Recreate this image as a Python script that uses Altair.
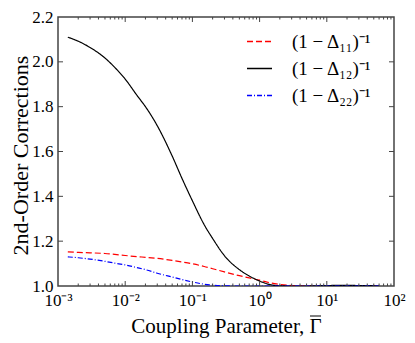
import altair as alt
import pandas as pd

# ---- data ----
gamma = [0.0014, 0.002, 0.003, 0.005, 0.007, 0.01, 0.015, 0.02, 0.03, 0.05, 0.07,
         0.1, 0.15, 0.2, 0.3, 0.5, 0.7, 1.0, 1.5, 2.0, 3.0, 5.0, 7.0, 10.0, 20.0, 30.0, 60.0]
d11 = [1.152, 1.150, 1.148, 1.145, 1.141, 1.136, 1.131, 1.128, 1.123, 1.114, 1.107,
       1.099, 1.087, 1.077, 1.063, 1.046, 1.036, 1.026, 1.013, 1.007, 1.002, 1.000, 1.000,
       1.000, 1.000, 1.000, 1.000]
d12 = [2.110, 2.092, 2.064, 2.017, 1.975, 1.923, 1.850, 1.800, 1.715, 1.580, 1.480,
       1.380, 1.273, 1.212, 1.135, 1.073, 1.045, 1.022, 1.005, 1.001, 1.000, 1.000, 1.001,
       1.002, 1.003, 1.002, 1.001]
d22 = [1.130, 1.126, 1.120, 1.110, 1.102, 1.094, 1.082, 1.073, 1.057, 1.040, 1.029,
       1.018, 1.008, 1.004, 1.001, 1.000, 1.000, 1.000, 1.000, 1.000, 1.000, 1.000, 1.000,
       1.000, 1.000, 1.000, 1.000]

series_labels = ["(1 − Δ₁₁)⁻¹", "(1 − Δ₁₂)⁻¹", "(1 − Δ₂₂)⁻¹"]
series_colors = ["#ff0000", "#000000", "#0000ff"]
series_dashes = [[6, 3], [1, 0], [5, 2, 1, 2]]

x_major = [0.001, 0.01, 0.1, 1, 10, 100]
x_major_labels = ["10⁻³", "10⁻²", "10⁻¹", "10⁰", "10¹", "10²"]
x_minor = [m * 10.0 ** k for k in range(-3, 2) for m in range(2, 10)]
y_major = [1.0, 1.2, 1.4, 1.6, 1.8, 2.0, 2.2]

x_title = "Coupling Parameter, Γ"
y_title = "2nd-Order Corrections"

W, H = 336, 269
FONT = "Liberation Serif"

rows = []
for lab, vals in zip(series_labels, [d11, d12, d22]):
    for g, v in zip(gamma, vals):
        rows.append({"g": g, "v": v, "s": lab})
df = pd.DataFrame(rows)

xscale = alt.Scale(type="log", domain=[0.001, 100], nice=False)
yscale = alt.Scale(domain=[1.0, 2.2], nice=False, zero=False)

label_expr = "[" + ",".join("'%s'" % l for l in x_major_labels) + "][round(log(datum.value)/LN10)+3]"

xaxis = alt.Axis(values=x_major, labelExpr=label_expr, ticks=False, domain=False,
                 grid=False, labelPadding=6, labelFontSize=17, labelFont=FONT,
                 titleFont=FONT, titleFontSize=21, titleFontWeight="normal",
                 titleX=W / 2, titleY=46, titleAlign="center", titleBaseline="alphabetic",
                 labelColor="#000", titleColor="#000", labelFlush=False)
yaxis = alt.Axis(values=y_major, format=".1f", ticks=False, domain=False,
                 grid=False, labelPadding=5, labelFontSize=17, labelFont=FONT,
                 titleFont=FONT, titleFontSize=22, titleFontWeight="normal",
                 titleX=-31, titleY=138, titleAngle=270, titleAlign="center",
                 titleBaseline="alphabetic",
                 labelColor="#000", titleColor="#000", labelFlush=False)

lines = alt.Chart(df).mark_line(strokeWidth=1.2, clip=True, interpolate="monotone").encode(
    x=alt.X("g:Q", scale=xscale, title=x_title, axis=xaxis),
    y=alt.Y("v:Q", scale=yscale, title=y_title, axis=yaxis),
    color=alt.Color("s:N", sort=series_labels,
                    scale=alt.Scale(domain=series_labels, range=series_colors),
                    legend=alt.Legend(title=None, orient="none", legendX=188, legendY=11,
                                      symbolType="stroke", symbolSize=625,
                                      symbolStrokeWidth=1.3, labelFont=FONT,
                                      labelFontSize=19, labelOffset=19, rowPadding=3,
                                      labelColor="#000")),
    strokeDash=alt.StrokeDash("s:N", sort=series_labels,
                              scale=alt.Scale(domain=series_labels, range=series_dashes),
                              legend=None),
)

tick_col = "#444"
xmaj = pd.DataFrame({"g": x_major[1:-1]})
xmin = pd.DataFrame({"g": x_minor})
ymaj = pd.DataFrame({"v": y_major[1:-1]})

def xticks(data, length):
    b = alt.Chart(data).mark_rule(color=tick_col, strokeWidth=1).encode(
        x=alt.X("g:Q", scale=xscale, title=x_title, axis=xaxis),
        y=alt.value(H), y2=alt.value(H - length))
    t = alt.Chart(data).mark_rule(color=tick_col, strokeWidth=1).encode(
        x=alt.X("g:Q", scale=xscale, title=x_title, axis=xaxis),
        y=alt.value(0), y2=alt.value(length))
    return [b, t]

def yticks(data, length):
    l = alt.Chart(data).mark_rule(color=tick_col, strokeWidth=1).encode(
        y=alt.Y("v:Q", scale=yscale, title=y_title, axis=yaxis),
        x=alt.value(0), x2=alt.value(length))
    r = alt.Chart(data).mark_rule(color=tick_col, strokeWidth=1).encode(
        y=alt.Y("v:Q", scale=yscale, title=y_title, axis=yaxis),
        x=alt.value(W), x2=alt.value(W - length))
    return [l, r]

# overline (bar) over the Gamma in the x-axis title
overline = alt.Chart(pd.DataFrame({"k": [0]})).mark_rule(color="#000", strokeWidth=1).encode(
    x=alt.value(252), x2=alt.value(263), y=alt.value(H + 30))

chart = alt.layer(
    lines, *xticks(xmaj, 5), *xticks(xmin, 2.5), *yticks(ymaj, 5), overline
).properties(
    width=W, height=H,
    autosize=alt.AutoSizeParams(type="none"),
    padding={"left": 50, "top": 9, "right": 13, "bottom": 56},
).configure_view(stroke="#444", strokeWidth=1.5)

chart.save("out.html", embed_options={"renderer": "svg", "actions": False})
